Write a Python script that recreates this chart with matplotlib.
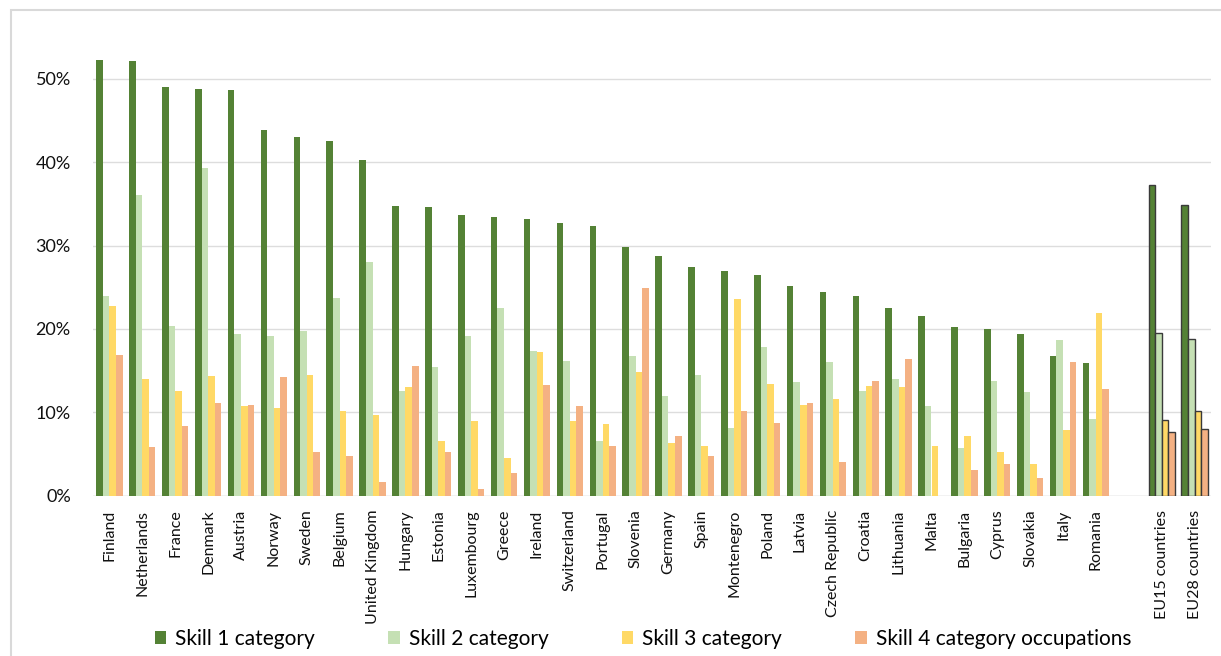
import numpy as np
import matplotlib
matplotlib.use("Agg")
import matplotlib.pyplot as plt
from matplotlib.patches import Rectangle, Patch

plt.rcParams['font.family'] = ['Lato', 'DejaVu Sans']

countries = ["Finland", "Netherlands", "France", "Denmark", "Austria", "Norway",
             "Sweden", "Belgium", "United Kingdom", "Hungary", "Estonia",
             "Luxembourg", "Greece", "Ireland", "Switzerland", "Portugal",
             "Slovenia", "Germany", "Spain", "Montenegro", "Poland", "Latvia",
             "Czech Republic", "Croatia", "Lithuania", "Malta", "Bulgaria",
             "Cyprus", "Slovakia", "Italy", "Romania"]
aggregates = ["EU15 countries", "EU28 countries"]

skill1 = [52.3, 52.1, 49.0, 48.8, 48.6, 43.9, 43.0, 42.5, 40.3, 34.7, 34.6,
          33.6, 33.4, 33.2, 32.7, 32.3, 29.8, 28.8, 27.4, 26.9, 26.5, 25.1,
          24.4, 23.9, 22.5, 21.6, 20.2, 20.0, 19.4, 16.8, 15.9]
skill2 = [24.0, 36.0, 20.3, 39.3, 19.4, 19.1, 19.7, 23.7, 28.0, 12.5, 15.4,
          19.2, 22.5, 17.4, 16.1, 6.6, 16.8, 12.0, 14.5, 8.1, 17.8, 13.6,
          16.0, 12.6, 14.0, 10.8, 5.7, 13.7, 12.4, 18.7, 9.2]
skill3 = [22.8, 14.0, 12.5, 14.3, 10.8, 10.5, 14.5, 10.1, 9.7, 13.0, 6.5,
          9.0, 4.5, 17.2, 9.0, 8.6, 14.8, 6.3, 6.0, 23.6, 13.4, 10.9,
          11.6, 13.2, 13.0, 6.0, 7.1, 5.2, 3.8, 7.9, 21.9]
skill4 = [16.9, 5.8, 8.3, 11.1, 10.9, 14.2, 5.2, 4.8, 1.6, 15.5, 5.2,
          0.8, 2.7, 13.3, 10.8, 6.0, 24.9, 7.1, 4.8, 10.1, 8.7, 11.1,
          4.1, 13.7, 16.4, 0.0, 3.1, 3.8, 2.1, 16.0, 12.8]

agg_skill1 = [37.3, 34.9]
agg_skill2 = [19.5, 18.8]
agg_skill3 = [9.1, 10.2]
agg_skill4 = [7.6, 8.0]

series_names = ["Skill 1 category", "Skill 2 category", "Skill 3 category",
                "Skill 4 category occupations"]
colors = ["#548235", "#C5E0B4", "#FFD966", "#F4B183"]

fig = plt.figure(figsize=(12.21, 6.56), dpi=100)
W, H = 1221, 656
ax = fig.add_axes([93 / W, 1 - 37 / H - (495.7 - 37) / H, (1211 - 93) / W, (495.7 - 37) / H])

n = len(countries)
x_c = np.arange(n)
x_a = np.arange(n + 1, n + 3)
bw = 0.2
offsets = (np.arange(4) - 1.5) * bw

country_data = [skill1, skill2, skill3, skill4]
agg_data = [agg_skill1, agg_skill2, agg_skill3, agg_skill4]
for i in range(4):
    ax.bar(x_c + offsets[i], np.array(country_data[i]) / 100, width=bw,
           color=colors[i], linewidth=0, zorder=3)
    ax.bar(x_a + offsets[i], np.array(agg_data[i]) / 100, width=bw,
           color=colors[i], edgecolor="#3a3a3a", linewidth=1.0, zorder=3)

ax.set_xlim(-0.5, n + 2.5)
ax.set_ylim(0, 0.55)
ax.set_yticks([0, 0.1, 0.2, 0.3, 0.4, 0.5])
ax.set_yticklabels(["0%", "10%", "20%", "30%", "40%", "50%"])
ax.yaxis.grid(True, color="#DDDDDD", linewidth=1.0, zorder=0)
ax.set_axisbelow(True)
for s in ax.spines.values():
    s.set_visible(False)
ax.axhline(0, color="#DDDDDD", linewidth=1.0, zorder=2)

ax.set_xticks(list(x_c) + list(x_a))
ax.set_xticklabels(countries + aggregates, rotation=90, fontsize=11.5,
                   color="#111111")
ax.tick_params(axis="x", length=0, pad=10)
ax.tick_params(axis="y", length=0, pad=16, labelsize=13, labelcolor="#111111")

handles = [Patch(facecolor=c, edgecolor="none") for c in colors]
fig.legend(handles, series_names, loc="center", bbox_to_anchor=(643 / W, 1 - 639 / H),
           ncol=4, frameon=False, fontsize=15, handlelength=0.55,
           handleheight=0.55, handletextpad=0.45, columnspacing=3.5)

fig.add_artist(Rectangle((11 / W, -0.1), 2.0, (H - 10) / H + 0.1,
                         transform=fig.transFigure, fill=False,
                         edgecolor="#D9D9D9", linewidth=1.5))

fig.savefig("out.png", dpi=100, facecolor="white")
